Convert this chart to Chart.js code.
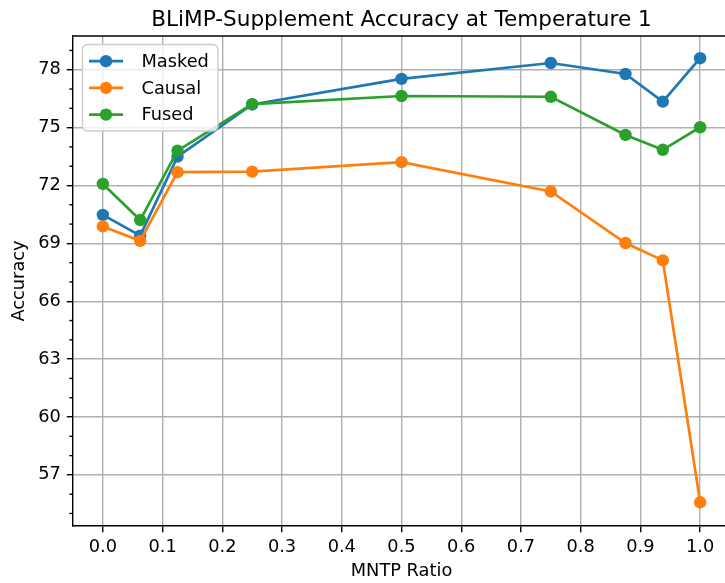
<!DOCTYPE html>
<html>
<head>
<meta charset="utf-8">
<script src="https://cdn.jsdelivr.net/npm/chart.js@4"></script>
<style>
  html, body { margin: 0; padding: 0; background: #fff; overflow: hidden; }
  #wrap { width: 725px; height: 583px; overflow: hidden; }
</style>
</head>
<body>
<div id="wrap"><canvas id="acc" width="740" height="583"></canvas></div>
<script>
// MNTP ratio on x, accuracy per model variant on y
var ratios = [0, 0.0625, 0.125, 0.25, 0.5, 0.75, 0.875, 0.9375, 1.0];
var masked = [70.48, 69.40, 73.50, 76.20, 77.53, 78.35, 77.78, 76.35, 78.60];
var causal = [69.88, 69.13, 72.69, 72.72, 73.21, 71.69, 69.02, 68.12, 55.58];
var fused  = [72.08, 70.21, 73.81, 76.22, 76.64, 76.60, 74.62, 73.85, 75.02];

var xTicks = [0, 0.1, 0.2, 0.3, 0.4, 0.5, 0.6, 0.7, 0.8, 0.9, 1.0];
var yTicks = [57, 60, 63, 66, 69, 72, 75, 78];
var yMinor = [55, 56, 58, 59, 61, 62, 64, 65, 67, 68, 70, 71, 73, 74, 76, 77, 79];

var FONT = 'DejaVu Sans';
Chart.defaults.font.family = FONT;
Chart.defaults.font.size = 17.8;
Chart.defaults.color = '#000';

var MARK = 6.2;

function pts(ys) {
  return ratios.map(function(x, i) { return {x: x, y: ys[i]}; });
}

function series(label, ys, color, order) {
  return {
    label: label,
    data: pts(ys),
    borderColor: color,
    backgroundColor: color,
    borderWidth: 2.7,
    pointRadius: MARK,
    pointHoverRadius: MARK,
    pointBorderWidth: 0,
    tension: 0,
    order: order
  };
}

// title, top spine, minor y ticks and the boxed legend, matplotlib style
var decor = {
  id: 'decor',
  afterDraw: function(chart) {
    var ctx = chart.ctx, a = chart.chartArea, y = chart.scales.y;
    ctx.save();

    ctx.strokeStyle = '#000';
    ctx.lineWidth = 1.4;
    ctx.beginPath();
    ctx.moveTo(a.left, a.top);
    ctx.lineTo(a.right, a.top);
    ctx.stroke();

    yMinor.forEach(function(v) {
      var py = y.getPixelForValue(v);
      ctx.beginPath();
      ctx.moveTo(a.left, py);
      ctx.lineTo(a.left - 3.6, py);
      ctx.stroke();
    });

    ctx.fillStyle = '#000';
    ctx.font = '21.6px "' + FONT + '"';
    ctx.textAlign = 'center';
    ctx.textBaseline = 'alphabetic';
    ctx.fillText('BLiMP-Supplement Accuracy at Temperature 1', (a.left + a.right) / 2, a.top - 10.5);

    // legend
    var bx = a.left + 9.5, by = a.top + 8.5, bw = 135.5, bh = 86.5;
    ctx.beginPath();
    ctx.roundRect(bx, by, bw, bh, 5);
    ctx.fillStyle = 'rgba(255,255,255,0.8)';
    ctx.fill();
    ctx.strokeStyle = '#cccccc';
    ctx.lineWidth = 1.4;
    ctx.stroke();

    ctx.font = '17.8px "' + FONT + '"';
    ctx.textAlign = 'left';
    ctx.textBaseline = 'middle';
    chart.data.datasets.forEach(function(ds, i) {
      var cy = by + 16.7 + i * 26.7;
      ctx.strokeStyle = ds.borderColor;
      ctx.lineWidth = 2.7;
      ctx.beginPath();
      ctx.moveTo(bx + 6.5, cy);
      ctx.lineTo(bx + 40.5, cy);
      ctx.stroke();
      ctx.fillStyle = ds.borderColor;
      ctx.beginPath();
      ctx.arc(bx + 23.5, cy, MARK, 0, Math.PI * 2);
      ctx.fill();
      ctx.fillStyle = '#000';
      ctx.fillText(ds.label, bx + 59, cy + 1);
    });

    ctx.restore();
  }
};

new Chart('acc', {
  type: 'line',
  data: {
    datasets: [
      series('Masked', masked, '#1f77b4', 3),
      series('Causal', causal, '#ff7f0e', 2),
      series('Fused', fused, '#2ca02c', 1)
    ]
  },
  plugins: [decor],
  options: {
    responsive: false,
    animation: false,
    layout: { padding: { left: 0, top: 36, right: 10, bottom: 0 } },
    plugins: {
      legend: { display: false },
      title: { display: false },
      tooltip: { enabled: false }
    },
    scales: {
      x: {
        type: 'linear',
        min: -0.05,
        max: 1.05,
        afterBuildTicks: function(s) { s.ticks = xTicks.map(function(v) { return {value: v}; }); },
        afterFit: function(s) { s.height = 57; },
        grid: { color: '#b0b0b0', lineWidth: 1.4, tickColor: '#000', tickLength: 6.2 },
        border: { color: '#000', width: 1.4 },
        ticks: {
          padding: 5,
          maxRotation: 0,
          callback: function(v) { return Number(v).toFixed(1); }
        },
        title: { display: true, text: 'MNTP Ratio', padding: { top: 0, bottom: 1 } }
      },
      y: {
        min: 54.35,
        max: 79.75,
        afterBuildTicks: function(s) { s.ticks = yTicks.map(function(v) { return {value: v}; }); },
        afterFit: function(s) { s.width = 73; },
        grid: { color: '#b0b0b0', lineWidth: 1.4, tickColor: '#000', tickLength: 6.2 },
        border: { color: '#000', width: 1.4 },
        ticks: { padding: 6 },
        title: { display: true, text: 'Accuracy', padding: { top: 9, bottom: 0 } }
      }
    }
  }
});
</script>
</body>
</html>
